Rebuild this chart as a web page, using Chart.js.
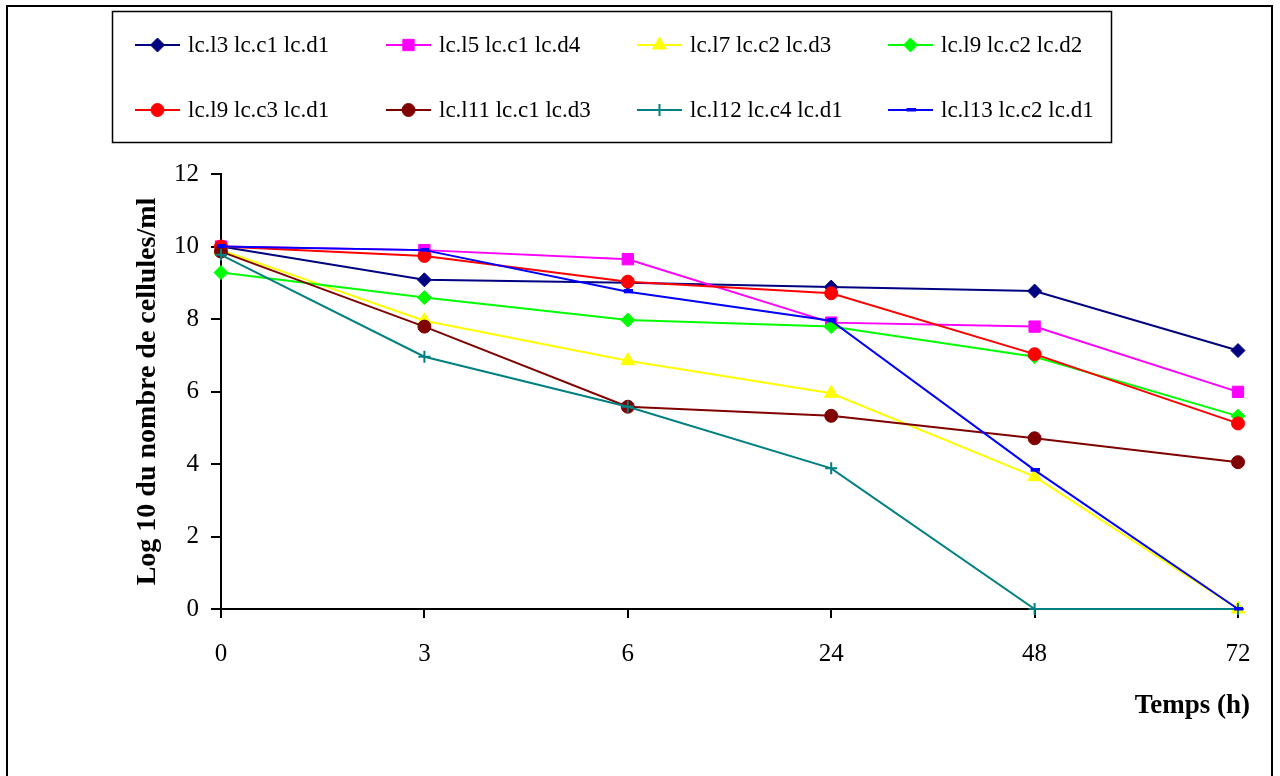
<!DOCTYPE html>
<html>
<head>
<meta charset="utf-8">
<script src="https://cdn.jsdelivr.net/npm/chart.js@4.4.1/dist/chart.umd.min.js"></script>
<style>
  html, body { margin: 0; padding: 0; background: #ffffff; }
  #wrap { width: 1280px; height: 776px; }
</style>
</head>
<body>
<div id="wrap"><canvas id="c" width="1280" height="776"></canvas></div>
<script>
// Sampling times (h)
const times = ['0', '3', '6', '24', '48', '72'];

// Series labels
const seriesNames = [
  'lc.l3 lc.c1 lc.d1', 'lc.l5 lc.c1 lc.d4', 'lc.l7 lc.c2 lc.d3', 'lc.l9 lc.c2 lc.d2',
  'lc.l9 lc.c3 lc.d1', 'lc.l11 lc.c1 lc.d3', 'lc.l12 lc.c4 lc.d1', 'lc.l13 lc.c2 lc.d1'
];

// Log10 of cell count per ml for each strain
const l3c1d1  = [10.0, 9.08, 9.0, 8.88, 8.77, 7.13];
const l5c1d4  = [10.0, 9.9, 9.65, 7.9, 7.79, 5.99];
const l7c2d3  = [9.9, 7.95, 6.85, 5.95, 3.65, 0];
const l9c2d2  = [9.28, 8.59, 7.97, 7.79, 6.96, 5.32];
const l9c3d1  = [10.0, 9.74, 9.03, 8.71, 7.03, 5.12];
const l11c1d3 = [9.86, 7.79, 5.58, 5.33, 4.71, 4.05];
const l12c4d1 = [9.77, 6.96, 5.58, 3.88, 0, 0];
const l13c2d1 = [10.0, 9.9, 8.75, 7.95, 3.83, 0];

// Y axis range
const yMin = 0, yMax = 12, yStep = 2;

const seriesValues = [l3c1d1, l5c1d4, l7c2d3, l9c2d2, l9c3d1, l11c1d3, l12c4d1, l13c2d1];
const seriesColors = ['#000080', '#FF00FF', '#FFFF00', '#00FF00', '#FF0000', '#800000', '#008080', '#0000FF'];

// Small horizontal bar used as the marker of the last series
function dashMarker(color) {
  const cv = document.createElement('canvas');
  cv.width = 10; cv.height = 5;
  const g = cv.getContext('2d');
  g.fillStyle = color;
  g.fillRect(1, 0, 9, 4);
  return cv;
}

const styles = [
  { pointStyle: 'rectRot', radius: 7 },
  { pointStyle: 'rect', radius: 8 },
  { pointStyle: 'triangle', radius: 8 },
  { pointStyle: 'rectRot', radius: 7 },
  { pointStyle: 'circle', radius: 6.5 },
  { pointStyle: 'circle', radius: 6.5 },
  { pointStyle: 'cross', radius: 6 },
  { pointStyle: dashMarker('#0000FF'), radius: 5 }
];

const datasets = seriesValues.map((vals, i) => ({
  label: seriesNames[i],
  data: vals,
  borderColor: seriesColors[i],
  backgroundColor: seriesColors[i],
  pointBackgroundColor: seriesColors[i],
  pointBorderColor: seriesColors[i],
  borderWidth: 2,
  pointStyle: styles[i].pointStyle,
  pointRadius: styles[i].radius,
  pointHoverRadius: styles[i].radius,
  pointBorderWidth: styles[i].pointStyle === 'cross' ? 2 : 1,
  tension: 0,
  fill: false,
  clip: false,
  order: seriesValues.length - i
}));

const serif = "'Liberation Serif', 'Times New Roman', serif";

// Outer frame, boxed legend and x axis caption
const decorPlugin = {
  id: 'decor',
  afterDraw(chart) {
    const ctx = chart.ctx;
    ctx.save();
    // outer frame
    ctx.strokeStyle = '#000';
    ctx.lineWidth = 2;
    ctx.strokeRect(7, 6, 1265, 800);

    // legend box
    ctx.lineWidth = 1.5;
    ctx.strokeRect(112.5, 11.5, 999, 131);

    chart.data.datasets.forEach((ds, i) => {
      const col = i % 4, row = Math.floor(i / 4);
      const x0 = 135 + col * 251;
      const y = 45 + row * 65;
      ctx.strokeStyle = ds.borderColor;
      ctx.lineWidth = 2;
      ctx.beginPath();
      ctx.moveTo(x0, y);
      ctx.lineTo(x0 + 45, y);
      ctx.stroke();
      ctx.fillStyle = ds.pointBackgroundColor;
      ctx.strokeStyle = ds.pointBorderColor;
      ctx.lineWidth = ds.pointBorderWidth;
      Chart.helpers.drawPoint(ctx, {
        pointStyle: ds.pointStyle,
        radius: ds.pointRadius,
        rotation: 0,
        borderWidth: ds.pointBorderWidth
      }, x0 + 22.5, y);
      ctx.fillStyle = '#000';
      ctx.font = '23px ' + serif;
      ctx.textAlign = 'left';
      ctx.textBaseline = 'middle';
      ctx.fillText(ds.label, x0 + 53, y + 1);
    });

    // x axis caption
    ctx.fillStyle = '#000';
    ctx.font = 'bold 27px ' + serif;
    ctx.textAlign = 'right';
    ctx.textBaseline = 'middle';
    ctx.fillText('Temps (h)', 1250, 706);
    ctx.restore();
  }
};

new Chart(document.getElementById('c'), {
  type: 'line',
  data: { labels: times, datasets: datasets },
  plugins: [decorPlugin],
  options: {
    responsive: false,
    animation: false,
    events: [],
    layout: { padding: { top: 174, right: 42, bottom: 0, left: 0 } },
    plugins: {
      legend: { display: false },
      tooltip: { enabled: false },
      title: { display: false }
    },
    scales: {
      x: {
        type: 'category',
        offset: false,
        afterFit(scale) { scale.height = 167; },
        grid: {
          drawOnChartArea: false,
          drawTicks: true,
          tickLength: 9,
          color: '#000',
          lineWidth: 2
        },
        border: { display: true, color: '#000', width: 2 },
        ticks: {
          color: '#000',
          font: { family: serif, size: 25 },
          padding: 21,
          maxRotation: 0,
          autoSkip: false
        }
      },
      y: {
        min: yMin,
        max: yMax,
        afterFit(scale) { scale.width = 221; },
        grid: {
          drawOnChartArea: false,
          drawTicks: true,
          tickLength: 10,
          color: '#000',
          lineWidth: 2
        },
        border: { display: true, color: '#000', width: 2 },
        ticks: {
          stepSize: yStep,
          color: '#000',
          font: { family: serif, size: 25 },
          padding: 12
        },
        title: {
          display: true,
          text: 'Log 10 du nombre de cellules/ml',
          color: '#000',
          font: { family: serif, size: 28, weight: 'bold' },
          padding: { top: 131, bottom: 0 }
        }
      }
    }
  }
});
</script>
</body>
</html>
